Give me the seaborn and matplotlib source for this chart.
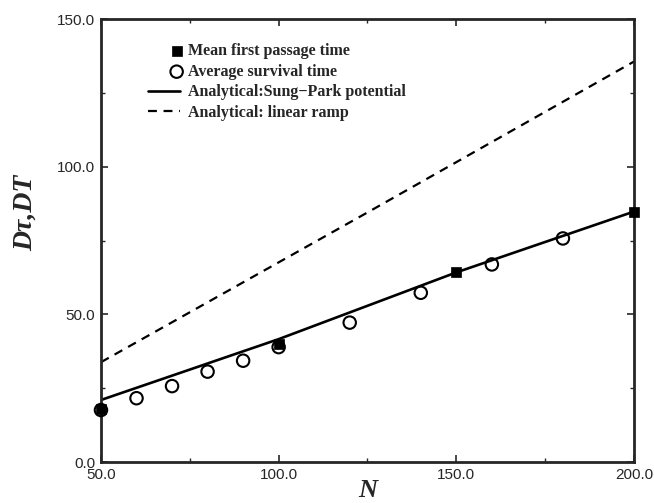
import matplotlib
matplotlib.use("Agg")
import matplotlib.pyplot as plt
import seaborn as sns
import pandas as pd
from matplotlib.ticker import MultipleLocator, FormatStrFormatter
from matplotlib.legend_handler import HandlerPathCollection

# Data
mfpt_N = [50, 100, 150, 200]
mfpt_T = [18.0, 39.8, 64.3, 84.8]

surv_N = [50, 60, 70, 80, 90, 100, 120, 140, 160, 180]
surv_T = [17.6, 21.6, 25.7, 30.6, 34.3, 38.9, 47.2, 57.3, 66.9, 75.7]

sp_N = [50, 100, 150, 200]
sp_T = [21.0, 41.6, 64.2, 84.8]

ramp_N = [50, 125, 200]
ramp_T = [33.8, 84.5, 135.6]

xticks = [50, 100, 150, 200]
yticks = [0, 50, 100, 150]

sns.set_style("ticks")
plt.rcParams['font.family'] = ['Liberation Sans', 'DejaVu Sans']


class RightMarker(HandlerPathCollection):
    def get_xdata(self, legend, xdescent, ydescent, width, height, fontsize):
        x = width - xdescent - 0.2 * fontsize
        return [x], [x]


fig = plt.figure(figsize=(6.54, 5.03), dpi=100)
ax = fig.add_axes([0.1544, 0.0815, 0.815, 0.8807])

sp_df = pd.DataFrame({"N": sp_N, "T": sp_T})
ramp_df = pd.DataFrame({"N": ramp_N, "T": ramp_T})
mf_df = pd.DataFrame({"N": mfpt_N, "T": mfpt_T})
sv_df = pd.DataFrame({"N": surv_N, "T": surv_T})

sns.lineplot(data=sp_df, x="N", y="T", ax=ax, color="black", lw=1.9,
             label="Analytical:Sung\u2212Park potential")
sns.lineplot(data=ramp_df, x="N", y="T", ax=ax, color="black", lw=1.6,
             linestyle=(0, (4, 3)), label="Analytical: linear ramp")
sns.scatterplot(data=mf_df, x="N", y="T", ax=ax, marker="s", s=42,
                color="black", edgecolor="black", linewidth=0.5,
                label="Mean first passage time", clip_on=False, zorder=5)
sns.scatterplot(data=sv_df, x="N", y="T", ax=ax, marker="o", s=80,
                facecolor="none", edgecolor="black", linewidth=1.5,
                label="Average survival time", clip_on=False, zorder=6)

ax.set_xlim(50, 200)
ax.set_ylim(0, 150)
ax.set_xticks(xticks)
ax.set_yticks(yticks)
ax.xaxis.set_minor_locator(MultipleLocator(25))
ax.yaxis.set_minor_locator(MultipleLocator(25))
ax.xaxis.set_major_formatter(FormatStrFormatter('%.1f'))
ax.yaxis.set_major_formatter(FormatStrFormatter('%.1f'))
ax.tick_params(which="major", direction="in", length=5, width=1.2,
               labelsize=11, top=True, right=True, pad=4)
ax.tick_params(which="minor", direction="in", length=3, width=1,
               top=True, right=True)
for sp in ax.spines.values():
    sp.set_linewidth(2)
    sp.set_visible(True)

ax.set_xlabel("N", fontsize=19, fontweight="bold", style="italic",
              family=["Liberation Serif"], labelpad=-2)
ax.set_ylabel("D\u03c4,DT", fontsize=20, fontweight="bold", style="italic",
              family=["Liberation Serif"])
ax.yaxis.set_label_coords(-0.118, 0.562)

handles, labels = ax.get_legend_handles_labels()
order = [labels.index("Mean first passage time"),
         labels.index("Average survival time"),
         labels.index("Analytical:Sung\u2212Park potential"),
         labels.index("Analytical: linear ramp")]
hsel = [handles[i] for i in order]
leg = ax.legend(hsel, [labels[i] for i in order],
                loc="upper left", bbox_to_anchor=(0.088, 0.945), frameon=False,
                prop={"family": "Liberation Serif", "weight": "bold", "size": 11.5},
                handlelength=2.0, handletextpad=0.5, labelspacing=0.28,
                borderaxespad=0, borderpad=0,
                handler_map={hsel[0]: RightMarker(), hsel[1]: RightMarker()})

fig.savefig("out.png", dpi=100)
